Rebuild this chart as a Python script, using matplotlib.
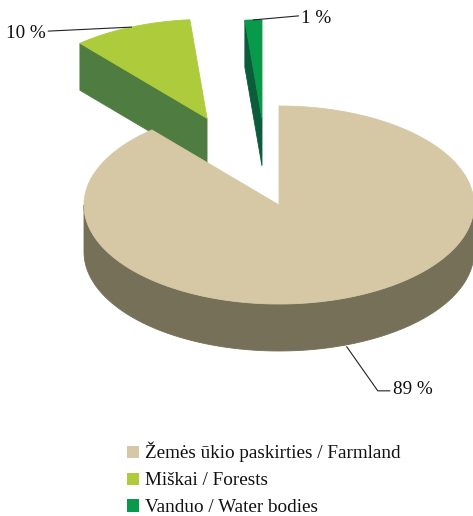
import numpy as np
import matplotlib
matplotlib.use("Agg")
import matplotlib.pyplot as plt
from matplotlib.patches import Polygon, Patch

# ---- data ----
categories = ["Žemės ūkio paskirties / Farmland", "Miškai / Forests", "Vanduo / Water bodies"]
values = [88.7, 9.9, 1.4]
pct_labels = ["89 %", "10 %", "1 %"]
explode = [0.0, 0.95, 0.875]
top_colors = ["#D6C8A5", "#ADCB3B", "#08994A"]
side_colors = ["#767059", "#4F7D41", "#0B5C3B"]

# ---- layout (pixel-like coordinates, y downward) ----
W, H = 473, 516
cx, cy = 279.0, 205.0
rx, ry = 195.0, 99.0
depth = 47.0
explode_dir_shift = [0.0, 0.0, -3.2]   # degrees, direction tweak of the explosion

fig = plt.figure(figsize=(W / 100, H / 100), dpi=100)
ax = fig.add_axes([0, 0, 1, 1])
ax.set_xlim(0, W)
ax.set_ylim(H, 0)
ax.axis("off")

serif = ["Liberation Serif", "DejaVu Serif"]


def pt(phi_deg, ox, oy, dz=0.0):
    p = np.radians(phi_deg)
    return ox + rx * np.sin(p), oy - ry * np.cos(p) + dz


total = float(sum(values))
angles = np.cumsum([0.0] + [v / total * 360.0 for v in values])

slices = []
for i, v in enumerate(values):
    a0, a1 = angles[i], angles[i + 1]
    mid = 0.5 * (a0 + a1)
    m = np.radians(mid + explode_dir_shift[i])
    ox = cx + explode[i] * rx * np.sin(m)
    oy = cy - explode[i] * ry * np.cos(m)
    slices.append((i, a0, a1, mid, ox, oy))

order = sorted(slices, key=lambda s: s[5])


def draw_poly(xy, color, z):
    ax.add_patch(Polygon(xy, closed=True, facecolor=color, edgecolor=color,
                         linewidth=0.6, zorder=z))


z = 1
anchor = {}
for (i, a0, a1, mid, ox, oy) in order:
    # cut faces
    for edge, normal in ((a0, a0 - 90.0), (a1, a1 + 90.0)):
        if np.cos(np.radians(normal)) < -1e-6:
            x1, y1 = pt(edge, ox, oy)
            poly = [(ox, oy), (x1, y1), (x1, y1 + depth), (ox, oy + depth)]
            draw_poly(poly, side_colors[i], z)
            z += 1
    # outer curved side (front half: 90..270)
    lo, hi = max(a0, 90.0), min(a1, 270.0)
    if hi > lo:
        ph = np.linspace(lo, hi, 200)
        topx, topy = pt(ph, ox, oy)
        poly = list(zip(topx, topy)) + list(zip(topx[::-1], topy[::-1] + depth))
        draw_poly(poly, side_colors[i], z)
        z += 1
    # top face
    ph = np.linspace(a0, a1, max(int((a1 - a0) * 2), 4))
    ax_, ay_ = pt(ph, ox, oy)
    poly = [(ox, oy)] + list(zip(ax_, ay_))
    draw_poly(poly, top_colors[i], z)
    z += 1
    anchor[i] = (mid, ox, oy)

fs = 13.8
lc = "#222222"
tc = "#111111"
# Farmland label (anchor on bottom of side at mid angle)
mid, ox, oy = anchor[0]
x0, y0 = pt(mid, ox, oy, depth)
ax.plot([x0, x0 + 31, x0 + 43], [y0 + 2, y0 + 46, y0 + 46], color=lc, lw=0.8, zorder=50)
ax.text(x0 + 46, y0 + 45, pct_labels[0], ha="left", va="center", fontsize=fs,
        family=serif, color=tc, zorder=51)
# Forest label
mid, ox, oy = anchor[1]
x0, y0 = pt(mid, ox, oy)
ax.plot([x0, x0 - 83], [y0, y0 + 4], color=lc, lw=0.8, zorder=50)
ax.text(x0 - 86, y0 + 6, pct_labels[1], ha="right", va="center", fontsize=fs,
        family=serif, color=tc, zorder=51)
# Water label
mid, ox, oy = anchor[2]
x0, y0 = pt(mid, ox, oy)
ax.plot([x0, x0 + 45], [y0, y0 - 4], color=lc, lw=0.8, zorder=50)
ax.text(x0 + 48, y0 - 1, pct_labels[2], ha="left", va="center", fontsize=fs,
        family=serif, color=tc, zorder=51)

handles = [Patch(facecolor=c, edgecolor="none") for c in top_colors]
leg = ax.legend(handles, categories, loc="upper left", bbox_to_anchor=(127 / W, 1 - 442 / H),
                frameon=False, handlelength=0.62, handleheight=0.62, handletextpad=0.3,
                labelspacing=0.52, borderpad=0, borderaxespad=0,
                prop={"family": serif, "size": fs})
for t in leg.get_texts():
    t.set_color(tc)

fig.savefig("out.png", dpi=100)
